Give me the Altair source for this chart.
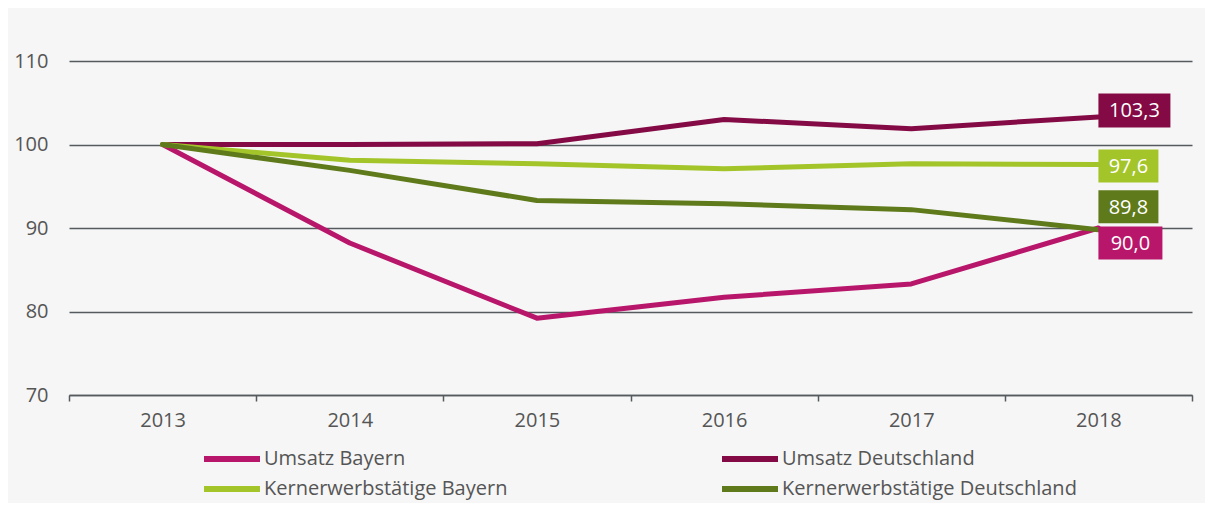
import altair as alt
import pandas as pd

years = ["2013", "2014", "2015", "2016", "2017", "2018"]
series = ["Umsatz Bayern", "Umsatz Deutschland", "Kernerwerbstätige Bayern", "Kernerwerbstätige Deutschland"]
umsatz_bayern = [100.0, 88.2, 79.2, 81.7, 83.3, 90.0]
umsatz_de = [100.0, 100.0, 100.1, 103.0, 101.9, 103.3]
ke_bayern = [100.0, 98.1, 97.7, 97.1, 97.7, 97.6]
ke_de = [100.0, 96.9, 93.3, 92.9, 92.2, 89.8]
colors = ["#b8166a", "#840a45", "#a3c52a", "#5f7a1b"]
y_ticks = [70, 80, 90, 100, 110]

values = [umsatz_bayern, umsatz_de, ke_bayern, ke_de]
rows = []
for si, (s, vals) in enumerate(zip(series, values)):
    for y, v in zip(years, vals):
        rows.append({"Jahr": y, "Serie": s, "Wert": v, "ord": si,
                     "label": f"{v:.1f}".replace(".", ",")})
df = pd.DataFrame(rows)

FONT = "Open Sans"
TXT = "#555555"
xscale = alt.Scale(type="band", domain=years, paddingInner=0, paddingOuter=0)
yscale = alt.Scale(domain=[70, 110], nice=False, zero=False)
cscale = alt.Scale(domain=series, range=colors)

lines = alt.Chart(df).mark_line(strokeWidth=5, strokeCap="round", strokeJoin="round").encode(
    x=alt.X("Jahr:O", scale=xscale, bandPosition=0.5, title=None,
            axis=alt.Axis(tickBand="extent", labelAngle=0, labelFontSize=20, labelColor=TXT,
                          labelFont=FONT, labelPadding=9, tickSize=6, tickColor="#555a5e",
                          domainColor="#555a5e", domainWidth=1.5, tickWidth=1.5, grid=False)),
    y=alt.Y("Wert:Q", scale=yscale, title=None,
            axis=alt.Axis(values=y_ticks, grid=True, gridColor="#555a5e", gridWidth=1.5,
                          domain=False, ticks=False, labelPadding=21, labelFontSize=20,
                          labelColor=TXT, labelFont=FONT)),
    color=alt.Color("Serie:N", scale=cscale, sort=series, title=None,
                    legend=alt.Legend(orient="none", legendX=153, legendY=388, columns=2,
                                      direction="horizontal",
                                      columnPadding=202, rowPadding=6,
                                      symbolType="M-5.6,0L5.6,0", symbolSize=100, symbolStrokeWidth=6,
                                      labelFontSize=20, labelColor=TXT, labelFont=FONT,
                                      labelOffset=22, labelLimit=400)),
    detail="Serie:N",
    order="ord:Q",
)

# end labels: (series index, box width, box height, vertical nudge in px)
label_style = [(1, 72, 34, -6.5), (2, 60, 33, 1.5), (3, 60, 33, -23), (0, 64, 33, 15)]
layers = [lines]
last = df[df["Jahr"] == years[-1]]
for si, w, h, dy in label_style:
    sub = last[last["Serie"] == series[si]]
    r = h / w
    path = f"M-1,-{r:.4f}L1,-{r:.4f}L1,{r:.4f}L-1,{r:.4f}Z"
    box = alt.Chart(sub).mark_point(shape=path, size=w * w, filled=True, opacity=1,
                                    color=colors[si], strokeWidth=0,
                                    xOffset=w / 2, yOffset=dy).encode(
        x=alt.X("Jahr:O", scale=xscale, bandPosition=0.5),
        y=alt.Y("Wert:Q", scale=yscale),
    )
    txt = alt.Chart(sub).mark_text(color="white", fontSize=20, font=FONT, align="center",
                                   baseline="middle", dx=w / 2, dy=dy + 1).encode(
        x=alt.X("Jahr:O", scale=xscale, bandPosition=0.5),
        y=alt.Y("Wert:Q", scale=yscale),
        text="label:N",
    )
    layers += [box, txt]

chart = alt.layer(*layers).properties(
    width=1123, height=334,
    autosize=alt.AutoSizeParams(type="none"),
    padding={"left": 61, "top": 53, "right": 13, "bottom": 108},
    background="#f6f6f6",
).configure_view(strokeWidth=0)

chart.save("out.html", embed_options={"renderer": "svg", "actions": False})
